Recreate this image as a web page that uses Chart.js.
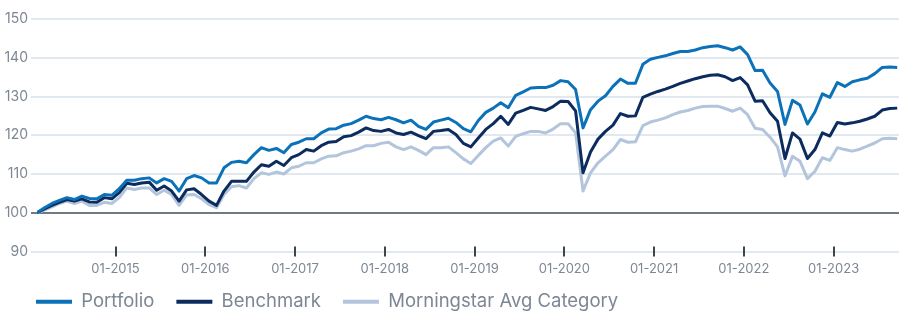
<!DOCTYPE html>
<html>
<head>
<meta charset="utf-8">
<script src="https://cdn.jsdelivr.net/npm/chart.js@4/dist/chart.umd.min.js"></script>
<style>
  body { margin: 0; background: #fff; }
  #wrap { width: 899px; height: 316px; }
</style>
</head>
<body>
<div id="wrap"><canvas id="growthChart"></canvas></div>
<script>
// Growth of 100, monthly, Feb 2014 - Sep 2023
const portfolio = [
  100, 101.3, 102.4, 103.2, 103.9, 103.4, 104.3, 103.7, 103.6, 104.7, 104.5,
  106.2, 108.4, 108.4, 108.8, 109.0, 107.7, 108.8, 108.1, 105.6, 108.8, 109.6, 109.0,
  107.7, 107.7, 111.6, 113.0, 113.3, 112.9, 115.0, 116.8, 116.1, 116.6, 115.5, 117.6, 118.2,
  119.1, 119.1, 120.6, 121.6, 121.7, 122.6, 123.0, 123.9, 124.9, 124.3, 124.0, 124.6,
  124.0, 123.2, 123.9, 122.3, 121.5, 123.4, 123.9, 124.4, 123.3, 121.7, 120.9, 123.8,
  125.9, 127.0, 128.4, 127.1, 130.3, 131.2, 132.2, 132.3, 132.3, 132.9, 134.1, 133.8,
  131.8, 121.9, 126.6, 128.8, 130.2, 132.6, 134.5, 133.4, 133.4, 138.3, 139.6, 140.1,
  140.5, 141.1, 141.6, 141.6, 142.0, 142.6, 142.9, 143.1, 142.6, 142.0, 142.8, 140.8,
  136.7, 136.8, 133.5, 131.3, 122.8, 129.0, 127.8, 122.9, 126.0, 130.7, 129.8, 133.6,
  132.6, 133.8, 134.3, 134.7, 135.9, 137.5, 137.6, 137.5
];
const benchmark = [
  100, 101.0, 101.9, 102.7, 103.4, 103.0, 103.6, 102.8, 102.7, 103.9, 103.6,
  105.2, 107.6, 107.3, 107.7, 107.9, 105.8, 106.9, 105.6, 103.0, 105.9, 106.2, 104.7,
  103.0, 101.9, 105.6, 108.1, 108.1, 108.1, 110.5, 112.4, 112.0, 113.3, 112.2, 114.2, 115.0,
  116.3, 115.9, 117.3, 118.2, 118.4, 119.6, 119.9, 120.8, 121.9, 121.2, 121.0, 121.5,
  120.6, 120.2, 120.8, 119.9, 119.1, 121.0, 121.2, 121.5, 120.2, 117.9, 117.0, 119.3,
  121.5, 123.0, 124.9, 122.8, 125.7, 126.4, 127.2, 126.8, 126.4, 127.4, 128.8, 128.7,
  126.3, 110.3, 115.7, 119.0, 121.0, 122.6, 125.6, 124.9, 125.0, 129.8, 130.6, 131.3,
  131.9, 132.6, 133.4, 134.0, 134.6, 135.1, 135.5, 135.6, 135.1, 134.1, 134.9, 133.0,
  128.8, 128.9, 125.8, 123.6, 114.0, 120.6, 119.0, 114.0, 116.3, 120.6, 119.8, 123.3,
  122.9, 123.2, 123.6, 124.2, 124.9, 126.5, 126.9, 127.0
];
const category = [
  100, 100.7, 101.5, 102.4, 103.0, 102.4, 103.0, 101.9, 101.9, 102.7, 102.4,
  103.9, 106.4, 106.0, 106.4, 106.4, 104.7, 105.8, 104.7, 101.9, 104.6, 104.7, 103.6,
  102.1, 101.3, 104.7, 106.7, 107.0, 106.4, 108.8, 110.3, 109.9, 110.5, 110.0, 111.6, 112.0,
  112.9, 112.9, 113.9, 114.6, 114.7, 115.5, 115.9, 116.5, 117.3, 117.3, 117.9, 118.2,
  117.0, 116.3, 117.0, 116.1, 115.0, 116.8, 116.8, 117.0, 115.5, 113.9, 112.7, 114.8,
  116.8, 118.5, 119.3, 117.2, 119.7, 120.4, 121.0, 121.0, 120.6, 121.6, 123.0, 123.0,
  120.6, 105.6, 110.3, 112.9, 114.6, 116.3, 118.9, 118.2, 118.3, 122.5, 123.4, 123.9,
  124.5, 125.3, 126.0, 126.4, 127.0, 127.4, 127.5, 127.5, 126.9, 126.2, 127.0, 125.3,
  121.8, 121.5, 119.5, 117.0, 109.5, 114.6, 113.3, 108.8, 110.7, 114.2, 113.5, 116.8,
  116.3, 115.9, 116.4, 117.2, 118.0, 119.1, 119.2, 119.1
];
const tickYears = [2015, 2016, 2017, 2018, 2019, 2020, 2021, 2022, 2023];
const yTicks = [90, 100, 110, 120, 130, 140, 150];

// month labels MM-YYYY starting Feb 2014
const months = [];
for (let i = 0; i < portfolio.length; i++) {
  const m = (1 + i) % 12, y = 2014 + Math.floor((1 + i) / 12);
  months.push(String(m + 1).padStart(2, '0') + '-' + y);
}
// mid-month position in decimal years
const monthPos = months.map(s => {
  const [m, y] = s.split('-').map(Number);
  return y + (m - 0.5) / 12;
});
const toPoints = arr => arr.map((v, i) => ({ x: monthPos[i], y: v }));

const textColor = '#7d8793';
const fontFamily = 'Inter, "Open Sans", sans-serif';

// short year marks across the bottom line + legend nudge
const chartExtras = {
  id: 'chartExtras',
  afterLayout(chart) {
    chart.legend.left += 10;
    chart.legend.top -= 11;
  },
  afterDraw(chart) {
    const { ctx, chartArea, scales: { x } } = chart;
    ctx.save();
    ctx.strokeStyle = '#3c454c';
    ctx.lineWidth = 2;
    x.ticks.forEach(t => {
      const px = Math.round(x.getPixelForValue(t.value));
      ctx.beginPath();
      ctx.moveTo(px, chartArea.bottom - 5);
      ctx.lineTo(px, chartArea.bottom + 5);
      ctx.stroke();
    });
    ctx.restore();
  }
};

const ctx = document.getElementById('growthChart').getContext('2d');
const growthChart = new Chart(ctx, {
  type: 'line',
  data: {
    datasets: [{
      label: 'Portfolio',
      data: toPoints(portfolio),
      borderColor: '#0b72b9',
      backgroundColor: '#0b72b9'
    }, {
      label: 'Benchmark',
      data: toPoints(benchmark),
      borderColor: '#0c2b5e',
      backgroundColor: '#0c2b5e'
    }, {
      label: 'Morningstar Avg Category',
      data: toPoints(category),
      borderColor: '#b2c5dc',
      backgroundColor: '#b2c5dc'
    }]
  },
  options: {
    responsive: true,
    maintainAspectRatio: false,
    animation: false,
    layout: { padding: { left: 4, right: 0, top: 19, bottom: -16 } },
    elements: {
      line: { borderWidth: 3, tension: 0, borderJoinStyle: 'round' },
      point: { radius: 0 }
    },
    scales: {
      x: {
        type: 'linear',
        min: monthPos[0],
        max: monthPos[monthPos.length - 1] + 0.02,
        afterBuildTicks: scale => { scale.ticks = tickYears.map(v => ({ value: v })); },
        afterFit: scale => { scale.height = 30; },
        grid: { display: false, drawTicks: false },
        border: { display: false },
        ticks: {
          padding: 10,
          color: textColor,
          font: { family: fontFamily, size: 13 },
          maxRotation: 0,
          autoSkip: false,
          callback: v => '01-' + v
        }
      },
      y: {
        min: 90,
        max: 150,
        afterBuildTicks: scale => { scale.ticks = yTicks.map(v => ({ value: v })); },
        afterFit: scale => { scale.width = 33; },
        border: { display: false },
        grid: {
          color: c => c.tick && c.tick.value === 100 ? '#6f7a85' : '#e1e8ef',
          lineWidth: 2,
          tickLength: 6
        },
        ticks: {
          padding: 3,
          color: textColor,
          font: { family: fontFamily, size: 14 }
        }
      }
    },
    plugins: {
      legend: {
        position: 'bottom',
        align: 'start',
        labels: {
          boxWidth: 36,
          boxHeight: 4,
          padding: 22,
          color: textColor,
          font: { family: fontFamily, size: 18.5 },
          generateLabels: chart => Chart.defaults.plugins.legend.labels.generateLabels(chart)
            .map(l => Object.assign(l, { lineWidth: 0, fillStyle: l.strokeStyle }))
        }
      },
      tooltip: { enabled: false }
    }
  },
  plugins: [chartExtras]
});
</script>
</body>
</html>
